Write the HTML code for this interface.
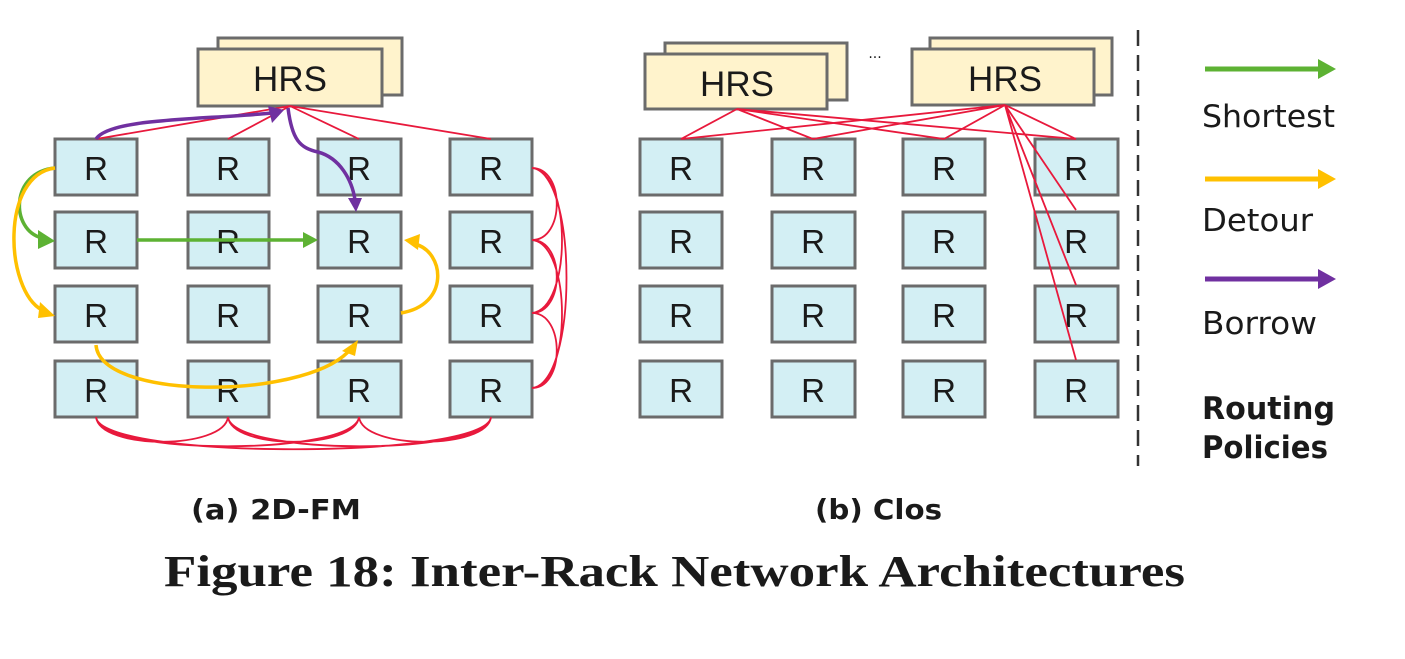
<!DOCTYPE html>
<html><head><meta charset="utf-8"><style>
html,body{margin:0;padding:0;background:#fff;}
body{width:1405px;height:654px;overflow:hidden;}
svg text{fill:#1a1a1a;}
.d text{font-family:"DejaVu Sans","Liberation Sans",sans-serif;}
.l text{font-family:"Liberation Sans",sans-serif;}
</style></head><body>
<svg width="1405" height="654" viewBox="0 0 1405 654" xmlns="http://www.w3.org/2000/svg">
<g stroke="#6b6b6b" stroke-width="3">
<rect x="218" y="38" width="184" height="57" fill="#fff3cc"/>
<rect x="198" y="49" width="184" height="57" fill="#fff3cc"/>
<rect x="665" y="43" width="182" height="57" fill="#fff3cc"/>
<rect x="645" y="54" width="182" height="55" fill="#fff3cc"/>
<rect x="930" y="38" width="182" height="57" fill="#fff3cc"/>
<rect x="912" y="49" width="182" height="56" fill="#fff3cc"/>
</g>
<g class="l" font-size="35" text-anchor="middle">
<text x="290" y="91">HRS</text>
<text x="737" y="96">HRS</text>
<text x="1005" y="91">HRS</text>
</g>
<g stroke="#6b6b6b" stroke-width="3" fill="#d3eff4">
<g id="row">
<rect x="55" y="139" width="82" height="56"/><rect x="188" y="139" width="81" height="56"/><rect x="318" y="139" width="83" height="56"/><rect x="450" y="139" width="82" height="56"/>
</g>
<use href="#row" y="73"/><use href="#row" y="147"/><use href="#row" y="222"/>
<g id="rowc">
<rect x="640" y="139" width="82" height="56"/><rect x="772" y="139" width="83" height="56"/><rect x="903" y="139" width="82" height="56"/><rect x="1035" y="139" width="83" height="56"/>
</g>
<use href="#rowc" y="73"/><use href="#rowc" y="147"/><use href="#rowc" y="222"/>
</g>
<g class="l" font-size="33" text-anchor="middle">
<g id="rt"><text x="96" y="180">R</text><text x="228" y="180">R</text><text x="359" y="180">R</text><text x="491" y="180">R</text>
<text x="681" y="180">R</text><text x="813" y="180">R</text><text x="944" y="180">R</text><text x="1076" y="180">R</text></g>
<use href="#rt" y="73"/><use href="#rt" y="147"/><use href="#rt" y="222"/>
</g>
<g stroke="#e8193c" stroke-width="1.8" fill="none">
<path d="M290,106 L96,139 M290,106 L228,139 M290,106 L359,139 M290,106 L491,139"/>
<path d="M532,168 C565,168 565,240 532,240 M532,240 C565,240 565,313 532,313 M532,313 C565,313 565,388 532,388 M532,168 C572,172 572,309 532,313 M532,240 C572,244 572,384 532,388 M532,168 C578,172 578,384 532,388"/>
<path d="M96,417 C100,450 224,450 228,417 M228,417 C232,450 355,450 359,417 M359,417 C363,450 487,450 491,417 M96,417 C100,456 355,456 359,417 M228,417 C232,456 487,456 491,417 M96,417 C100,460 487,460 491,417"/>
<path d="M737,109 L681,139 M737,109 L813,139 M737,109 L944,139 M737,109 L1076,139"/>
<path d="M1005,105 L681,139 M1005,105 L813,139 M1005,105 L944,139 M1005,105 L1076,139 M1005,105 L1076,210 M1005,105 L1076,285 M1005,105 L1076,360"/>
</g>
<g fill="none" stroke-width="3.5">
<path d="M96,139 C110,118 200,120 272,113" stroke="#7030a0"/>
<path d="M288,108 C292,140 300,148 318,152 C340,158 352,180 355,200" stroke="#7030a0"/>
<path d="M137,240 L305,240" stroke="#5db233"/>
<path d="M55,168 C10,172 10,230 42,238" stroke="#5db233"/>
<path d="M55,168 C0,175 5,290 42,310" stroke="#ffc000"/>
<path d="M401,313 C450,305 445,252 415,244" stroke="#ffc000"/>
<path d="M96,345 C100,400 300,400 348,352" stroke="#ffc000"/>
</g>
<g>
<path d="M268,106 L284,110 L272,123z" fill="#7030a0"/>
<path d="M348,198 L362,198 L356,212z" fill="#7030a0"/>
<path d="M303,232 L318,240 L303,248z" fill="#5db233"/>
<path d="M38,230 L55,241 L38,249z" fill="#5db233"/>
<path d="M40,302 L55,316 L38,318z" fill="#ffc000"/>
<path d="M404,240 L420,234 L418,250z" fill="#ffc000"/>
<path d="M342,351 L358,340 L355,356z" fill="#ffc000"/>
</g>
<g class="d"><text x="875" y="58" font-size="14" text-anchor="middle">...</text></g>
<line x1="1138" y1="30" x2="1138" y2="466" stroke="#333" stroke-width="2.5" stroke-dasharray="16,9"/>
<g stroke-width="5">
<line x1="1205" y1="69" x2="1320" y2="69" stroke="#5db233"/>
<line x1="1205" y1="179" x2="1320" y2="179" stroke="#ffc000"/>
<line x1="1205" y1="279" x2="1320" y2="279" stroke="#7030a0"/>
</g>
<path d="M1318,59 L1336,69 L1318,79z" fill="#5db233"/>
<path d="M1318,169 L1336,179 L1318,189z" fill="#ffc000"/>
<path d="M1318,269 L1336,279 L1318,289z" fill="#7030a0"/>
<g class="d" font-size="31">
<text x="1202" y="127" textLength="133" lengthAdjust="spacingAndGlyphs">Shortest</text>
<text x="1202" y="231" textLength="111" lengthAdjust="spacingAndGlyphs">Detour</text>
<text x="1202" y="334" textLength="115" lengthAdjust="spacingAndGlyphs">Borrow</text>
<text x="1202" y="419" font-weight="bold" textLength="133" lengthAdjust="spacingAndGlyphs">Routing</text>
<text x="1202" y="458" font-weight="bold" textLength="126" lengthAdjust="spacingAndGlyphs">Policies</text>
</g>
<g class="d" font-size="28" font-weight="bold">
<text x="191" y="519" textLength="170" lengthAdjust="spacingAndGlyphs">(a) 2D-FM</text>
<text x="815" y="519" textLength="127" lengthAdjust="spacingAndGlyphs">(b) Clos</text>
</g>
<text x="164" y="586" font-size="44" font-weight="bold" textLength="1021" lengthAdjust="spacingAndGlyphs" style="font-family:'Liberation Serif','DejaVu Serif',serif">Figure 18: Inter-Rack Network Architectures</text>
</svg>
</body></html>
